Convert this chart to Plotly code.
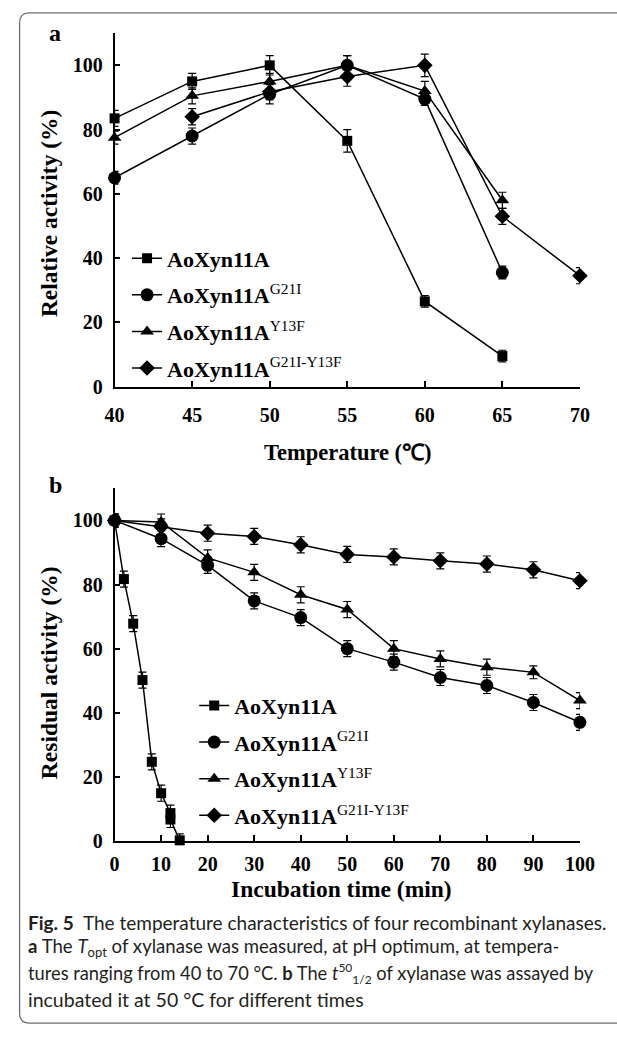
import plotly.graph_objects as go

# ---------------- data: panel a (temperature profile) ----------------
temp_wt = [40, 45, 50, 55, 60, 65]
act_wt = [83.5, 95, 100, 76.5, 26.5, 9.5]
err_wt = [2.5, 2.5, 3, 3.5, 1.8, 1.8]

temp_g21i = [40, 45, 50, 55, 60, 65]
act_g21i = [65, 78, 91, 100, 89.5, 35.5]
err_g21i = [2, 2.5, 3, 3, 2, 2]

temp_y13f = [40, 45, 50, 55, 60, 65]
act_y13f = [77.5, 90.5, 95, 100, 92, 58]
err_y13f = [2, 2.5, 2.5, 3, 3, 2.5]

temp_dbl = [45, 50, 55, 60, 65, 70]
act_dbl = [84, 91.8, 96.5, 100, 53, 34.5]
err_dbl = [2.5, 2.5, 3, 3.5, 2.5, 2.5]

# ---------------- data: panel b (thermostability at 50 C) ----------------
time_wt = [0, 2, 4, 6, 8, 10, 12, 12, 14]
res_wt = [100, 81.7, 67.8, 50.2, 24.7, 14.9, 8.7, 6.7, 0.2]
rerr_wt = [2, 2.5, 2.5, 2.5, 2.5, 2.5, 2.5, 2.5, 2]

time_all = [0, 10, 20, 30, 40, 50, 60, 70, 80, 90, 100]
res_g21i = [100, 94.3, 86, 74.9, 69.7, 60, 55.8, 51, 48.5, 43.2, 37]
res_y13f = [100, 99.5, 88.3, 83.8, 76.8, 72.2, 60, 56.8, 54.2, 52.6, 43.8]
res_dbl = [100, 98, 96, 95, 92.4, 89.4, 88.6, 87.4, 86.4, 84.6, 81.2]
rerr_g21i = [2, 2.5, 2.5, 2.5, 2.5, 2.5, 2.5, 2.5, 2.5, 2.5, 2.5]
rerr_y13f = [2, 2.5, 2.5, 2.5, 2.5, 2.5, 2.5, 2.5, 2.5, 2, 2.5]
rerr_dbl = [2, 2.5, 2.5, 2.5, 2.5, 2.5, 2.5, 2.5, 2.5, 2.5, 2.5]

sup = "<sup><span style='font-weight:normal'>%s</span></sup>"
names = ["AoXyn11A", "AoXyn11A" + sup % "G21I", "AoXyn11A" + sup % "Y13F",
         "AoXyn11A" + sup % "G21I-Y13F"]
symbols = ["square", "circle", "triangle-up", "diamond"]
msizes = [10, 13, 12, 12]

W, H = 617, 1037
SERIF = "Liberation Serif, Times New Roman, serif"


def px(x):
    return x / W


def py(y):
    return 1 - y / H


fig = go.Figure()

panel_a = [(temp_wt, act_wt, err_wt), (temp_g21i, act_g21i, err_g21i),
           (temp_y13f, act_y13f, err_y13f), (temp_dbl, act_dbl, err_dbl)]
panel_b = [(time_wt, res_wt, rerr_wt), (time_all, res_g21i, rerr_g21i),
           (time_all, res_y13f, rerr_y13f), (time_all, res_dbl, rerr_dbl)]

for i, (xs, ys, es) in enumerate(panel_a):
    fig.add_trace(go.Scatter(
        x=xs, y=ys, mode="lines+markers", name=names[i],
        line=dict(color="black", width=1.5),
        marker=dict(symbol=symbols[i], size=msizes[i], color="black"),
        error_y=dict(type="data", array=es, color="black", thickness=1.2, width=4),
        xaxis="x", yaxis="y", legend="legend", legendgroup="a%d" % i,
        cliponaxis=False))

for i, (xs, ys, es) in enumerate(panel_b):
    fig.add_trace(go.Scatter(
        x=xs, y=ys, mode="lines+markers", name=names[i],
        line=dict(color="black", width=1.5),
        marker=dict(symbol=symbols[i], size=msizes[i], color="black"),
        error_y=dict(type="data", array=es, color="black", thickness=1.2, width=4),
        xaxis="x2", yaxis="y2", legend="legend2", legendgroup="b%d" % i,
        cliponaxis=False))

tickfont = dict(family=SERIF, size=20, color="black", weight="bold")
axis_common = dict(showline=True, linecolor="black", linewidth=1.5, ticks="inside",
                   ticklen=6, tickwidth=1.5, tickcolor="black", showgrid=False,
                   zeroline=False, tickfont=tickfont, mirror=False)

xa_dom = [px(109), px(594)]
fig.update_layout(
    width=W, height=H,
    margin=dict(l=0, r=0, t=0, b=0),
    paper_bgcolor="white", plot_bgcolor="white",
    xaxis=dict(domain=xa_dom, range=[40, 70], tickvals=[40, 45, 50, 55, 60, 65, 70],
               anchor="y", ticklabelstandoff=10, **axis_common),
    yaxis=dict(domain=[py(390.7), py(33.6)], range=[0, 110],
               tickvals=[0, 20, 40, 60, 80, 100], anchor="x",
               ticklabelstandoff=6, **axis_common),
    xaxis2=dict(domain=xa_dom, range=[0, 100], tickvals=list(range(0, 101, 10)),
                anchor="y2", ticklabelstandoff=4, **axis_common),
    yaxis2=dict(domain=[py(850), py(493.6)], range=[0, 110],
                tickvals=[0, 20, 40, 60, 80, 100], anchor="x2",
                ticklabelstandoff=6, **axis_common),
    legend=dict(x=px(122), y=py(240), xanchor="left", yanchor="top",
                bgcolor="rgba(0,0,0,0)", tracegroupgap=5,
                font=dict(family=SERIF, size=22, color="black", weight="bold")),
    legend2=dict(x=px(192), y=py(692), xanchor="left", yanchor="top",
                 bgcolor="rgba(0,0,0,0)", tracegroupgap=5,
                 font=dict(family=SERIF, size=22, color="black", weight="bold")),
    showlegend=True,
)


def tf(size):
    return dict(family=SERIF, size=size, color="black", weight="bold")


ann = [
    dict(text="a", x=px(47), y=py(33), xanchor="center", yanchor="middle", font=tf(24)),
    dict(text="b", x=px(47), y=py(490), xanchor="center", yanchor="middle", font=tf(24)),
    dict(text="Relative activity (%)", x=px(40), y=py(215), textangle=-90,
         xanchor="center", yanchor="middle", font=tf(23.5)),
    dict(text="Residual activity (%)", x=px(40), y=py(680), textangle=-90,
         xanchor="center", yanchor="middle", font=tf(23.5)),
    dict(text="Temperature (℃)", x=px(352), y=py(457), xanchor="center",
         yanchor="middle", font=tf(22.5)),
    dict(text="Incubation time (min)", x=px(345), y=py(899), xanchor="center",
         yanchor="middle", font=tf(23.5)),
]
cap_font = dict(family="Lato, Open Sans, sans-serif", size=19, color="#231f20")
small = "<span style='font-size:12px'>%s</span>"
cap_lines = [
    (932, "<b>Fig. 5</b>  The temperature characteristics of four recombinant xylanases.", 19),
    (958, "<b>a</b> The <i>T</i><sub>opt</sub> of xylanase was measured, at pH optimum, at tempera-", 18.6),
    (984, "tures ranging from 40 to 70 °C. <b>b</b> The <i>t</i><sup>" + small % "50"
     + "</sup><sub>" + small % "1/2" + "</sub> of xylanase was assayed by", 18.3),
    (1010, "incubated it at 50 °C for different times", 19.5),
]
for yy, t, fs in cap_lines:
    f = dict(cap_font)
    f["size"] = fs
    ann.append(dict(text=t, x=px(17), y=py(yy), xanchor="left", yanchor="middle",
                    font=f))
for a in ann:
    a.update(xref="paper", yref="paper", showarrow=False)
fig.update_layout(annotations=ann)

# rounded frame around the figure panel
path = ("M {x0},{yb} L {x0},{yt2} Q {x0},{yt} {xt2},{yt} L {xr},{yt}").format(
    x0=px(10), yb=py(1024), yt2=py(23), yt=py(13), xt2=px(20), xr=px(640))
path2 = ("M {x0},{yb} Q {x0},{ybb} {xb2},{ybb} L {xr},{ybb}").format(
    x0=px(10), yb=py(1024), ybb=py(1034), xb2=px(20), xr=px(640))
fig.add_shape(type="path", path=path, xref="paper", yref="paper",
              line=dict(color="#6d6e71", width=1.3))
fig.add_shape(type="path", path=path2, xref="paper", yref="paper",
              line=dict(color="#6d6e71", width=1.3))

fig.write_html("out.html")
